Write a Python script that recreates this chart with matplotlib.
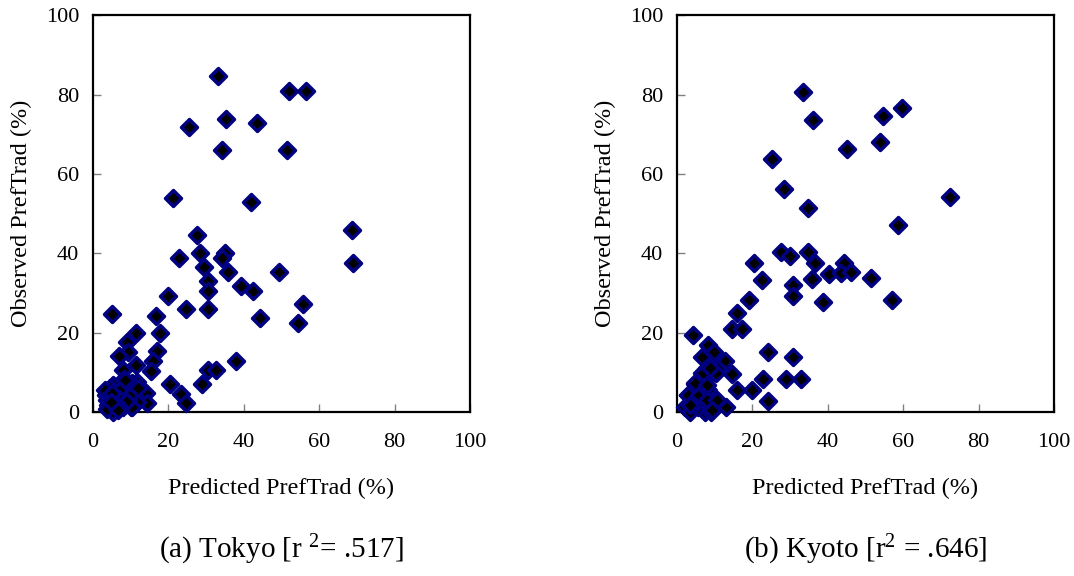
import matplotlib.pyplot as plt

plt.rcParams['font.family'] = ['Liberation Serif', 'DejaVu Serif']
plt.rcParams['mathtext.fontset'] = 'custom'
plt.rcParams['mathtext.rm'] = 'Liberation Serif'
plt.rcParams['mathtext.it'] = 'Liberation Serif:italic'

# Tokyo: predicted vs observed PrefTrad (%)
tokyo_pred = [33.1, 52.1, 56.6, 35.3, 43.4, 25.4, 34.1, 51.5, 21.2, 42.0,
              68.7, 69.0, 27.6, 28.4, 35.1, 34.1, 22.9, 29.5, 35.9, 49.3,
              30.5, 30.5, 39.3, 42.5, 19.9, 24.6, 30.5, 55.8, 44.4, 54.4,
              16.8, 5.1, 17.7, 11.4, 9.1, 9.4, 6.8, 17.0, 15.9, 11.5,
              15.5, 8.0, 30.4, 32.6, 37.8, 28.8, 20.5, 23.3, 24.6, 14.0,
              14.2, 9.8, 10.5, 10.2, 8.2, 11.8,
              5.4, 4.5, 7.2, 4.5, 7.0, 3.6, 5.8, 8.0, 10.3, 5.2,
              9.4, 10.7, 11.6, 10.3, 8.5, 12.0, 3.4, 3.2, 4.0, 6.0,
              5.0, 3.8, 6.5, 4.8]
tokyo_obs = [84.7, 81.0, 81.0, 73.9, 72.9, 71.8, 65.9, 65.9, 54.0, 52.9,
             45.8, 37.6, 44.5, 40.0, 40.0, 38.7, 38.7, 36.5, 35.2, 35.2,
             33.0, 30.5, 31.8, 30.5, 29.3, 25.9, 25.9, 27.1, 23.8, 22.4,
             24.1, 24.7, 20.0, 20.0, 17.6, 15.2, 14.1, 15.4, 12.9, 11.9,
             10.4, 10.5, 10.5, 10.7, 12.9, 7.1, 7.1, 4.6, 2.3, 4.8,
             2.3, 7.1, 4.6, 1.3, 8.4, 2.5,
             6.8, 6.0, 5.5, 3.9, 3.4, 3.0, 1.3, 1.3, 1.3, 0.1,
             3.0, 5.1, 7.6, 7.2, 8.1, 6.0, 4.3, 5.5, 1.8, 2.2,
             4.8, 0.8, 0.5, 2.6]

# Kyoto
kyoto_pred = [33.5, 36.0, 54.7, 59.6, 53.8, 45.0, 25.2, 28.3, 34.8, 72.3,
              58.5, 27.5, 29.9, 34.8, 36.7, 20.4, 44.3, 40.4, 43.4, 46.2,
              51.5, 35.8, 22.6, 30.7, 30.7, 38.7, 57.1, 19.2, 15.9, 14.7,
              17.2, 4.3, 24.2, 30.7, 8.2, 9.7, 6.7, 12.8, 10.5, 10.3,
              14.5, 8.0, 6.7, 22.9, 28.8, 33.0, 16.0, 19.8, 24.2, 13.1,
              10.5, 8.9, 4.7, 2.9, 5.8, 2.0, 3.5, 7.4, 8.9, 5.6,
              7.6, 7.4, 6.9, 5.3, 3.0, 5.7, 8.3, 3.5, 7.9, 10.6,
              9.2, 4.8, 7.0, 8.8, 7.9]
kyoto_obs = [80.7, 73.6, 74.7, 76.5, 68.1, 66.3, 63.8, 56.3, 51.4, 54.1,
             47.1, 40.3, 39.4, 40.3, 37.5, 37.5, 37.5, 34.7, 35.0, 35.2,
             33.8, 33.4, 33.3, 32.1, 29.3, 27.8, 28.1, 28.1, 24.9, 20.8,
             20.8, 19.4, 15.2, 13.8, 16.8, 15.2, 13.8, 12.8, 11.1, 9.9,
             9.5, 11.1, 9.9, 8.3, 8.3, 8.3, 5.6, 5.6, 2.8, 1.3,
             2.8, 4.2, 7.0, 4.2, 4.2, 1.3, 0.0, 0.0, 0.0, 1.3,
             5.5, 8.0, 2.8, 2.5, 4.3, 4.3, 5.6, 1.8, 3.0, 3.0,
             0.5, 7.2, 9.8, 11.0, 6.8]

ticks = [0, 20, 40, 60, 80, 100]

panels = [
    (tokyo_pred, tokyo_obs, r'(a) Tokyo [r $^{2}$= .517]', 0.0866),
    (kyoto_pred, kyoto_obs, r'(b) Kyoto [r$^{2}$ = .646]', 0.6304),
]

fig = plt.figure(figsize=(10.74, 5.76), dpi=100)

for pred, obs, caption, left in panels:
    ax = fig.add_axes([left, 0.2847, 0.351, 0.689])
    ax.scatter(pred, obs, marker='D', s=66, facecolor='black',
               edgecolor='#000080', linewidth=2.5, clip_on=False, zorder=3)
    ax.set_xlim(0, 100)
    ax.set_ylim(0, 100)
    ax.set_xticks(ticks)
    ax.set_yticks(ticks)
    ax.tick_params(direction='in', length=5.5, width=1, color='#808080',
                   labelsize=16, labelcolor='black')
    ax.tick_params(axis='x', pad=15)
    ax.tick_params(axis='y', pad=10)
    for sp in ax.spines.values():
        sp.set_linewidth(1.6)
        sp.set_color('black')
    ax.set_xlabel('Predicted PrefTrad (%)', fontsize=17.5, labelpad=19)
    ax.set_ylabel('Observed PrefTrad (%)', fontsize=17.5, labelpad=10)
    ax.text(0.5, -0.348, caption, transform=ax.transAxes, ha='center',
            va='center', fontsize=21)

fig.savefig('out.png', dpi=100)
